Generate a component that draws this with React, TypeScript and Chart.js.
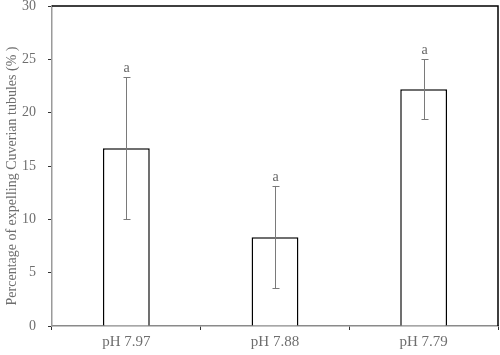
import React, { useEffect, useRef } from "react";
import { Chart, registerables } from "chart.js";

Chart.register(...registerables);

const categories = ["pH 7.97", "pH 7.88", "pH 7.79"];
const means = [16.67, 8.33, 22.2];
const errors = [6.67, 4.8, 2.8];
const letters = ["a", "a", "a"];
const yTicks = [0, 5, 10, 15, 20, 25, 30];
const yTitle = "Percentage of expelling Cuverian tubules (% )";

const FONT = "'Liberation Serif', 'Times New Roman', serif";
const GRAY = "#6e6e6e";

const errorPlugin = {
  id: "errorBars",
  afterDatasetsDraw(chart: any) {
    const ctx = chart.ctx;
    const x = chart.scales.x;
    const y = chart.scales.y;
    ctx.save();
    ctx.strokeStyle = "#7a7a7a";
    ctx.lineWidth = 1;
    means.forEach((m, i) => {
      const cx = Math.round(x.getPixelForValue(i)) + 0.5;
      const top = y.getPixelForValue(m + errors[i]);
      const bot = y.getPixelForValue(m - errors[i]);
      ctx.beginPath();
      ctx.moveTo(cx, top);
      ctx.lineTo(cx, bot);
      ctx.moveTo(cx - 3, Math.round(top) + 0.5);
      ctx.lineTo(cx + 4, Math.round(top) + 0.5);
      ctx.moveTo(cx - 3, Math.round(bot) + 0.5);
      ctx.lineTo(cx + 4, Math.round(bot) + 0.5);
      ctx.stroke();
      ctx.fillStyle = "#666";
      ctx.font = "14px " + FONT;
      ctx.textAlign = "center";
      ctx.textBaseline = "bottom";
      ctx.fillText(letters[i], cx, top - 2);
    });
    // top and right frame
    const a = chart.chartArea;
    ctx.strokeStyle = "#000";
    ctx.lineWidth = 1.5;
    ctx.beginPath();
    ctx.moveTo(a.left, a.top);
    ctx.lineTo(a.right, a.top);
    ctx.lineTo(a.right, a.bottom);
    ctx.stroke();
    // y title
    ctx.translate(12, (a.top + a.bottom) / 2 + 10);
    ctx.rotate(-Math.PI / 2);
    ctx.fillStyle = GRAY;
    ctx.font = "14px " + FONT;
    ctx.textAlign = "center";
    ctx.textBaseline = "middle";
    ctx.fillText(yTitle, 0, 0);
    ctx.restore();
  },
};

export default function App() {
  const ref = useRef<HTMLCanvasElement>(null);
  useEffect(() => {
    const chart = new Chart(ref.current!, {
      type: "bar",
      data: {
        labels: categories,
        datasets: [
          {
            data: means,
            backgroundColor: "#ffffff",
            borderColor: "#000000",
            borderWidth: 1.5,
            categoryPercentage: 1,
            barPercentage: 0.315,
          },
        ],
      },
      options: {
        animation: false,
        responsive: false,
        maintainAspectRatio: false,
        layout: { padding: { top: 6, right: 2, left: 0, bottom: 0 } },
        plugins: { legend: { display: false }, tooltip: { enabled: false } },
        scales: {
          x: {
            grid: {
              offset: true,
              drawOnChartArea: false,
              drawTicks: true,
              tickLength: 4,
              color: "#333",
            },
            border: { color: "#8a8a8a", width: 1.5 },
            ticks: {
              color: GRAY,
              font: { family: FONT, size: 15 },
              padding: 3,
            },
            afterFit: (s: any) => {
              s.height = 29;
              s.paddingLeft = 0;
              s.paddingRight = 0;
            },
          },
          y: {
            min: 0,
            max: 30,
            afterBuildTicks: (s: any) => {
              s.ticks = yTicks.map((v) => ({ value: v }));
            },
            grid: {
              drawOnChartArea: false,
              drawTicks: true,
              tickLength: 4,
              color: "#333",
            },
            border: { color: "#9a9a9a", width: 1.5 },
            ticks: {
              color: GRAY,
              font: { family: FONT, size: 14 },
              padding: 12,
            },
            afterFit: (s: any) => {
              s.width = 52;
              s.paddingTop = 0;
              s.paddingBottom = 0;
            },
          },
        },
      },
      plugins: [errorPlugin],
    });
    return () => chart.destroy();
  }, []);
  return (
    <div style={{ position: "fixed", left: 0, top: 0, width: 500, height: 355, background: "#fff" }}>
      <canvas ref={ref} width={500} height={355} style={{ width: 500, height: 355 }} />
    </div>
  );
}
